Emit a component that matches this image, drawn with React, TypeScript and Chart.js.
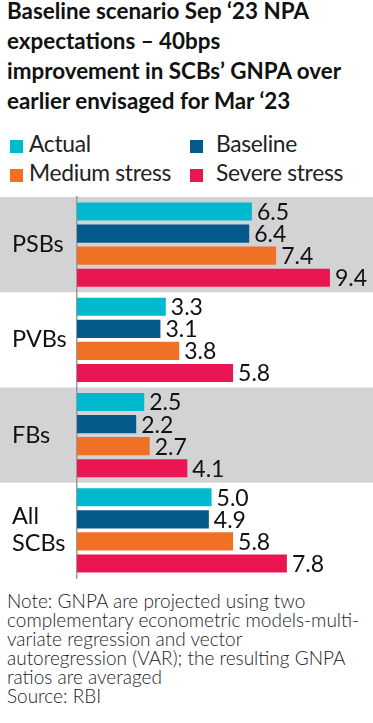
import React, { useEffect, useRef } from 'react';
import { Chart, registerables } from 'chart.js';

Chart.register(...registerables);

const titleLines = [
  'Baseline scenario Sep ‘23 NPA',
  'expectations – 40bps',
  'improvement in SCBs’ GNPA over',
  'earlier envisaged for Mar ‘23',
];
const categories = [['PSBs'], ['PVBs'], ['FBs'], ['All', 'SCBs']];
const seriesNames = ['Actual', 'Baseline', 'Medium stress', 'Severe stress'];
const actual = [6.5, 3.3, 2.5, 5.0];
const baseline = [6.4, 3.1, 2.2, 4.9];
const medium = [7.4, 3.8, 2.7, 5.8];
const severe = [9.4, 5.8, 4.1, 7.8];
const seriesColors = ['#00b9cf', '#06598b', '#f07125', '#ea1651'];
const noteLines = [
  'Note: GNPA are projected using two',
  'complementary econometric models-multi-',
  'variate regression and vector',
  'autoregression (VAR); the resulting GNPA',
  'ratios are averaged',
  'Source: RBI',
];

const FONT = 'Lato, "Open Sans", sans-serif';

const bandsPlugin = {
  id: 'bands',
  beforeDraw(chart: any) {
    const y = chart.scales.y;
    const { ctx, chartArea } = chart;
    const step = (chartArea.bottom - chartArea.top) / categories.length;
    ctx.save();
    ctx.fillStyle = '#d3d3d5';
    categories.forEach((_, i) => {
      if (i % 2 === 0) {
        const cy = y.getPixelForValue(i);
        ctx.fillRect(0, cy - step / 2, chart.width, step);
      }
    });
    ctx.restore();
  },
};

const valueLabelsPlugin = {
  id: 'valueLabels',
  afterDatasetsDraw(chart: any) {
    const ctx = chart.ctx;
    ctx.save();
    ctx.font = `23px ${FONT}`;
    ctx.fillStyle = '#111';
    ctx.textBaseline = 'middle';
    ctx.textAlign = 'left';
    chart.data.datasets.forEach((ds: any, di: number) => {
      const meta = chart.getDatasetMeta(di);
      meta.data.forEach((el: any, i: number) => {
        const v = ds.data[i] as number;
        ctx.fillText(v.toFixed(1), el.x + 5, el.y + 1);
      });
    });
    ctx.restore();
  },
};

function ChartCanvas() {
  const ref = useRef<HTMLCanvasElement | null>(null);
  useEffect(() => {
    if (!ref.current) return;
    const series = [actual, baseline, medium, severe];
    const chart = new Chart(ref.current, {
      type: 'bar',
      data: {
        labels: categories,
        datasets: series.map((d, i) => ({
          label: seriesNames[i],
          data: d,
          backgroundColor: seriesColors[i],
          borderWidth: 0,
          categoryPercentage: 0.926,
          barPercentage: 0.82,
        })),
      },
      options: {
        indexAxis: 'y',
        animation: false,
        responsive: false,
        layout: { padding: { top: 7, bottom: 7, left: 12, right: 0 } },
        plugins: {
          legend: { display: false },
          tooltip: { enabled: false },
          title: { display: false },
        },
        scales: {
          x: {
            display: false,
            min: 0,
            max: 11,
          },
          y: {
            grid: { display: false, drawTicks: false },
            border: { display: true, color: '#9a9a9a', width: 1.5 },
            ticks: {
              crossAlign: 'far',
              padding: 0,
              color: '#111',
              font: { family: FONT, size: 23.5, lineHeight: 1.15 },
            },
            afterFit(scale: any) {
              scale.width = 65;
              scale.paddingTop = 0;
              scale.paddingBottom = 0;
            },
          },
        },
      },
      plugins: [bandsPlugin, valueLabelsPlugin],
    });
    return () => chart.destroy();
  }, []);
  return (
    <canvas
      ref={ref}
      width={373}
      height={395}
      style={{ position: 'absolute', left: 0, top: 190, width: 373, height: 395 }}
    />
  );
}

export default function App() {
  const markerX = [10, 190, 10, 190];
  const textX = [29, 216, 29, 216];
  const baselines = [152, 152, 181, 181];
  return (
    <div
      style={{
        position: 'absolute',
        left: 0,
        top: 0,
        width: 373,
        height: 723,
        background: '#fff',
        overflow: 'hidden',
        fontFamily: FONT,
        color: '#111',
      }}
    >
      <div
        style={{
          position: 'absolute',
          left: 7,
          top: -4,
          fontSize: 22.4,
          fontWeight: 700,
          lineHeight: '30px',
          whiteSpace: 'nowrap',
        }}
      >
        {titleLines.map((l, i) => (
          <div key={i}>{l}</div>
        ))}
      </div>
      {seriesNames.map((n, i) => (
        <React.Fragment key={n}>
          <span
            style={{
              position: 'absolute',
              left: markerX[i],
              top: baselines[i] - 12,
              width: 13,
              height: 13,
              background: seriesColors[i],
            }}
          />
          <span
            style={{
              position: 'absolute',
              left: textX[i],
              top: baselines[i] - 21,
              fontSize: 22.8,
              letterSpacing: '-0.3px',
              lineHeight: '24px',
              whiteSpace: 'nowrap',
              color: '#222',
            }}
          >
            {n}
          </span>
        </React.Fragment>
      ))}
      <ChartCanvas />
      <div
        style={{
          position: 'absolute',
          left: 7,
          top: 591,
          fontSize: 19,
          lineHeight: '19px',
          whiteSpace: 'nowrap',
          color: '#222',
          fontWeight: 300,
        }}
      >
        {noteLines.map((l, i) => (
          <div key={i}>{l}</div>
        ))}
      </div>
    </div>
  );
}
